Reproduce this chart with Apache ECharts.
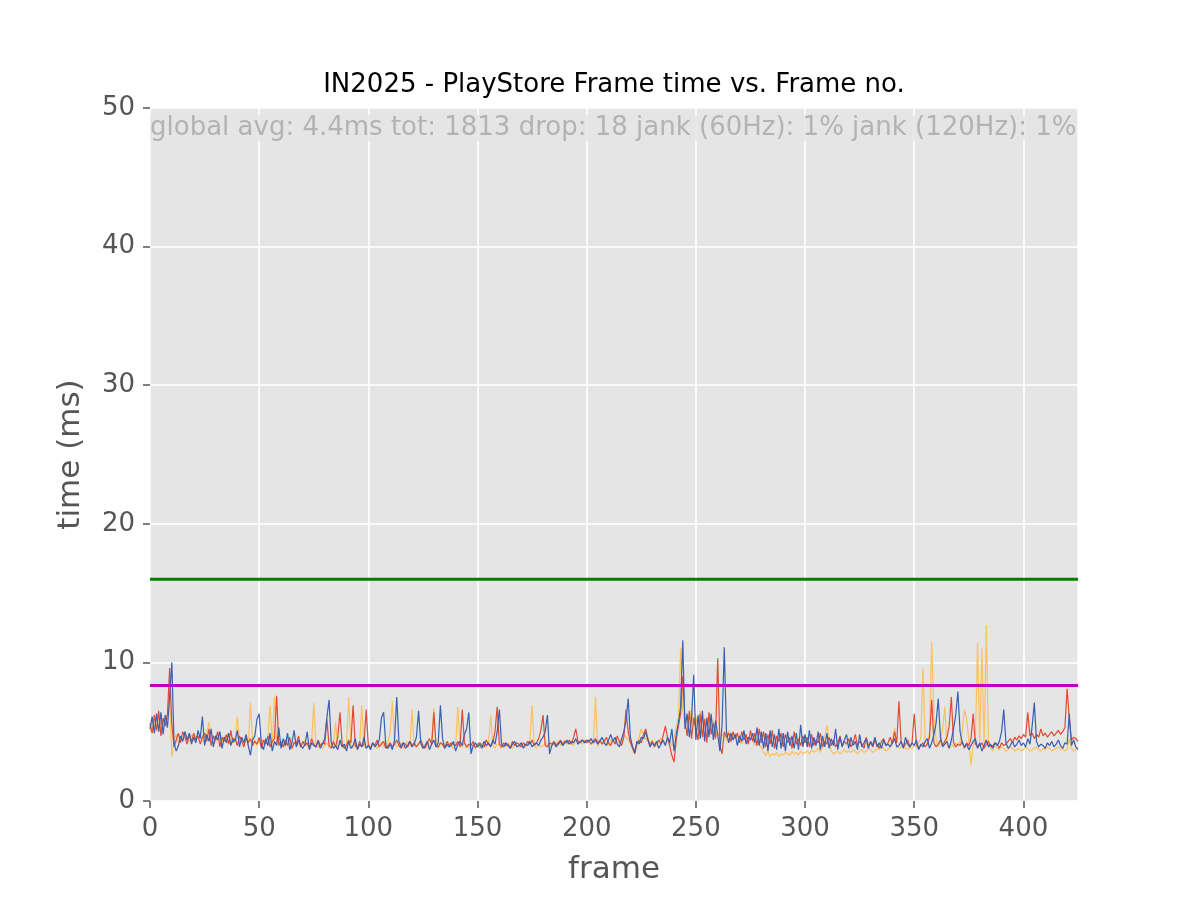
<!DOCTYPE html>
<html>
<head>
<meta charset="utf-8">
<script src="https://cdn.jsdelivr.net/npm/echarts@6/dist/echarts.min.js"></script>
<style>html,body{margin:0;padding:0;background:#fff}#c{width:1200px;height:900px}</style>
</head>
<body>
<div id="c"></div>
<script>
const titleText = 'IN2025 - PlayStore Frame time vs. Frame no.';
const statsText = 'global avg: 4.4ms tot: 1813 drop: 18 jank (60Hz): 1% jank (120Hz): 1%';
const xTicks = [0, 50, 100, 150, 200, 250, 300, 350, 400];
const yTicks = [0, 10, 20, 30, 40, 50];
const threshold60 = 16;
const threshold120 = 8.33;

const blue = [
5.2,6.1,4.9,6.3,5.0,6.4,4.8,6.2,5.3,7.5, 10.0,4.2,3.6,4.0,4.7,4.3,5.0,4.4,4.9,4.1,
4.6,4.2,5.1,4.5,6.1,4.0,4.8,4.3,5.2,3.9, 4.7,4.4,5.0,3.8,4.6,4.2,4.9,4.0,4.5,4.3,
5.1,3.9,4.6,4.2,4.8,4.0,3.3,4.4,4.7,5.9, 6.3,4.1,3.7,4.5,4.0,4.9,3.6,4.3,4.0,5.3,
3.8,4.5,4.0,4.9,3.7,4.2,5.1,3.9,4.4,4.0, 3.8,4.1,5.0,3.7,4.2,4.0,3.9,4.3,3.8,4.1,
4.5,6.0,7.3,4.2,3.8,4.0,3.7,4.4,3.9,4.1, 3.6,4.3,3.8,4.0,4.5,3.7,4.1,3.9,4.6,3.8,
4.0,3.7,4.2,3.9,4.1,4.4,6.0,6.4,4.0,3.8, 4.1,3.7,4.4,7.5,4.3,3.9,4.2,3.8,4.0,4.3,
3.9,4.1,4.6,6.5,4.2,3.8,4.0,4.3,3.7,4.1, 4.4,3.9,4.2,6.9,4.5,3.8,4.1,3.9,4.0,4.3,
3.6,4.1,4.3,4.0,4.8,5.2,6.4,3.4,4.0,4.2, 3.9,4.1,3.8,4.3,4.0,4.2,3.9,4.4,4.1,5.0,
6.6,4.1,3.9,4.2,4.0,3.8,4.1,4.3,3.9,4.0, 4.2,3.8,4.1,4.0,4.3,3.9,4.1,4.2,4.0,4.4,
4.6,5.0,6.2,3.4,4.0,4.2,3.9,4.1,4.3,4.0, 4.2,4.4,4.1,4.3,4.2,4.5,4.1,4.3,4.4,4.2,
4.4,4.3,4.5,4.2,4.4,4.1,4.3,4.6,4.2,4.0, 4.4,4.8,4.3,4.6,4.1,3.9,4.5,5.0,5.8,7.4,
4.6,3.9,3.5,4.3,4.1,4.6,4.5,5.0,4.4,3.9, 4.2,4.0,4.3,3.8,4.1,4.4,4.0,4.6,4.2,5.2,
3.6,4.8,5.6,6.8,11.6,5.2,6.3,4.6,5.9,9.1, 4.4,6.2,4.5,6.5,4.3,6.0,4.6,6.3,4.4,5.8,
4.8,3.6,5.5,11.1,5.0,4.2,4.9,4.4,4.8,4.0, 4.7,4.3,5.1,4.1,4.6,4.4,4.9,4.2,5.3,4.0,
5.0,3.8,4.9,3.6,5.1,3.9,4.8,3.7,5.2,3.8, 4.9,3.6,5.0,4.0,4.7,3.8,4.9,3.7,5.5,3.9,
4.8,3.9,5.1,3.8,4.6,4.0,5.0,3.7,4.7,3.9, 4.9,3.8,4.5,4.0,5.2,3.7,4.6,3.9,4.4,4.8,
3.8,4.6,4.0,4.3,3.7,4.8,3.9,4.2,4.5,3.8, 4.3,4.0,4.6,3.9,4.2,3.8,4.4,4.0,4.1,3.9,
4.2,4.5,3.9,4.0,4.3,3.8,4.6,4.1,3.9,4.2, 4.0,4.4,3.7,4.1,3.9,4.3,4.5,3.8,4.2,4.8,
5.6,7.4,4.6,3.9,4.1,4.3,3.8,4.4,5.2,6.2, 7.9,5.0,4.2,3.9,4.1,3.7,4.0,4.3,4.5,3.8,
4.2,3.6,4.0,4.4,3.9,4.1,3.8,4.2,4.0,4.3, 5.0,6.6,4.2,3.8,4.0,4.3,3.9,4.1,4.4,4.0,
4.2,3.9,4.5,4.1,5.4,7.1,4.3,3.9,4.1,4.0, 3.8,4.2,4.0,4.3,3.9,4.1,4.4,4.0,3.8,4.2,
4.1,6.3,4.0,4.4,3.9,3.7
];

const red = [
5.6,4.9,6.2,5.1,6.5,4.7,6.0,5.4,6.3,9.6, 5.5,3.9,4.4,4.9,4.2,5.0,4.6,4.1,4.8,4.3,
4.9,4.4,4.7,4.1,4.6,4.9,4.3,5.2,4.0,4.7, 4.4,5.0,3.9,4.6,4.3,4.8,4.1,5.1,4.2,4.5,
4.0,4.7,4.3,3.9,4.6,4.2,4.5,4.0,4.3,4.1, 4.6,3.8,4.4,4.1,4.7,3.9,4.3,4.5,7.6,4.0,
4.3,3.9,4.4,4.0,4.6,3.8,4.2,4.1,4.7,3.9, 4.3,4.0,4.2,3.8,4.5,4.1,3.9,4.4,4.0,4.2,
4.1,5.9,4.0,3.8,4.3,3.9,4.6,6.4,4.1,3.8, 4.0,4.4,4.2,6.9,4.0,3.8,4.3,3.9,4.1,6.6,
4.0,3.8,4.2,4.0,4.4,3.9,4.1,4.3,3.8,4.0, 4.2,3.9,4.1,4.4,4.0,3.8,4.2,4.1,3.9,4.3,
4.0,4.2,3.9,4.1,4.4,4.0,3.8,4.2,4.5,4.1, 6.4,4.0,3.9,4.2,4.1,3.8,4.3,4.0,4.2,4.1,
4.0,4.3,3.9,6.6,4.2,3.9,4.1,4.0,4.3,3.8, 4.1,4.2,4.0,3.9,4.4,4.1,4.0,4.2,5.0,6.8,
4.1,3.9,4.2,4.0,4.1,3.8,4.3,4.0,4.2,4.1, 3.9,4.2,4.0,4.3,4.1,4.4,4.0,4.2,4.5,5.1,
6.2,4.0,3.9,4.2,4.1,4.3,4.0,4.2,4.4,4.1, 4.3,4.2,4.4,4.1,4.6,5.2,4.3,4.2,4.4,4.3,
4.2,4.4,4.1,4.3,4.5,4.2,4.4,4.1,4.3,4.6, 4.2,4.0,4.4,4.1,4.7,4.3,4.0,4.6,6.6,5.0,
4.2,3.8,3.4,4.1,4.4,4.2,4.8,5.2,4.5,4.0, 4.3,3.9,4.2,4.4,4.1,4.7,5.4,4.6,4.0,3.3,
2.8,4.4,5.4,6.3,9.0,5.8,4.7,6.5,4.5,6.0, 5.2,4.4,6.3,4.6,5.9,4.2,6.4,4.8,5.6,4.5,
10.3,4.0,3.4,5.0,4.6,4.9,4.3,5.0,4.5,4.9, 4.2,5.0,4.4,4.8,4.1,5.1,4.3,4.9,4.0,5.2,
4.2,5.0,3.9,4.8,4.1,5.1,3.8,4.7,4.3,4.9, 3.9,4.8,4.2,4.6,3.8,5.0,4.1,4.5,4.0,4.7,
4.2,4.6,3.9,4.8,4.0,4.4,4.2,4.9,3.9,4.3, 4.1,4.6,4.0,4.4,3.9,4.2,4.7,4.0,4.3,4.1,
4.5,3.9,4.2,4.8,4.0,4.3,4.1,3.8,4.6,4.0, 4.2,3.9,4.4,4.1,3.8,4.3,4.5,4.0,4.2,4.6,
4.1,5.0,4.2,7.2,4.3,3.9,4.1,4.4,3.9,4.2, 6.3,4.1,3.8,4.0,4.2,3.9,4.1,4.6,7.3,4.2,
3.9,4.1,4.4,4.0,4.3,4.6,5.4,7.5,4.2,3.9, 4.1,4.0,4.3,3.8,4.2,4.0,4.5,6.3,4.1,3.9,
4.0,4.2,3.8,4.1,4.3,3.9,4.0,4.2,4.1,3.8, 4.2,4.0,4.1,4.3,4.5,4.2,4.6,4.4,4.7,4.5,
4.8,4.6,6.4,4.7,4.9,4.5,4.8,4.6,5.2,4.7, 4.9,4.6,4.8,5.0,4.7,4.9,5.1,4.8,5.0,5.3,
8.1,6.0,4.4,4.6,4.5,4.3
];

const orange = [
5.0,5.8,5.3,6.0,5.2,5.7,5.5,6.1,5.9,8.0, 3.2,4.4,4.8,4.2,4.6,4.4,5.0,4.5,4.3,4.8,
4.4,4.7,4.5,4.9,4.3,4.6,5.0,5.7,4.4,4.6, 4.2,4.8,4.5,4.3,4.7,4.4,4.9,4.2,4.6,4.4,
6.1,4.3,4.5,4.1,4.6,4.0,7.1,4.2,4.4,4.0, 4.3,4.5,4.1,4.2,4.6,6.9,4.0,7.5,4.3,4.1,
4.0,4.2,3.9,4.4,4.1,3.8,4.3,4.0,4.2,3.9, 4.1,4.4,4.0,3.8,4.2,7.1,4.0,3.9,4.1,3.8,
4.0,4.2,3.9,4.1,4.0,5.7,3.8,4.2,4.0,3.9, 4.1,7.5,4.0,3.8,4.2,3.9,4.1,6.9,4.0,3.8,
4.1,3.9,4.2,4.0,3.8,4.1,4.3,3.9,4.0,4.2, 5.0,7.2,4.1,3.9,4.0,4.2,3.8,4.1,4.3,4.0,
6.6,4.0,3.9,4.2,4.1,3.8,4.0,4.3,3.9,4.1, 6.7,4.0,3.8,4.2,4.0,4.1,3.9,4.2,4.0,3.8,
4.1,6.8,4.0,3.9,4.2,3.8,4.0,3.6,4.1,3.9, 4.0,3.8,4.2,4.0,3.9,4.1,6.2,4.0,3.8,4.1,
4.0,3.8,4.1,3.9,4.2,4.0,3.8,4.1,4.0,3.9, 4.2,4.0,3.9,4.1,4.3,6.9,4.0,3.8,4.1,3.9,
4.0,4.2,4.1,3.9,4.0,4.2,4.1,4.3,4.0,4.2, 4.4,4.1,4.3,4.2,4.0,4.4,4.2,4.3,4.1,4.4,
4.3,4.2,4.5,4.1,7.5,3.9,4.3,4.1,4.4,4.2, 4.0,4.3,4.5,4.2,4.4,4.1,4.3,4.8,4.6,4.4,
4.3,4.0,3.6,4.2,4.6,5.2,4.8,4.4,4.6,4.1, 4.4,4.2,4.0,4.3,4.5,4.2,4.1,4.4,4.3,4.0,
4.6,5.3,6.0,11.0,6.5,5.6,6.2,5.0,6.6,5.4, 6.1,5.2,6.5,4.9,6.0,5.5,6.3,5.1,5.8,4.6,
5.0,4.3,4.8,4.6,4.4,5.1,4.2,4.7,4.9,4.3, 4.6,4.1,4.5,4.8,4.2,4.6,4.4,4.0,4.3,4.1,
3.8,3.5,3.3,3.6,3.2,3.4,3.3,3.5,3.2,3.4, 3.3,3.5,3.4,3.3,3.6,3.4,3.5,3.3,3.6,3.4,
3.5,3.6,3.4,3.7,3.5,3.6,3.8,3.5,4.0,4.6, 5.5,4.2,3.6,3.4,3.5,3.6,3.4,3.5,3.7,3.5,
3.6,3.5,3.7,3.6,3.4,3.6,3.7,3.5,3.6,3.8, 3.7,3.5,3.6,3.8,3.7,3.9,3.8,3.6,3.7,4.0,
4.3,5.3,4.0,3.8,3.9,4.1,3.8,3.7,3.9,3.8, 4.0,3.9,4.2,4.5,9.6,4.4,4.0,5.0,11.5,6.2,
4.5,3.9,4.3,5.2,6.8,4.0,3.8,4.1,3.9,4.2, 4.0,4.3,5.0,6.6,5.9,4.4,2.6,4.0,4.3,11.4,
4.2,11.0,3.8,12.7,4.1,3.9,3.6,4.0,3.8,3.7, 3.9,3.8,3.6,3.7,3.9,3.8,3.6,3.7,3.8,3.6,
3.7,3.9,3.8,3.6,3.7,3.8,3.9,3.7,3.6,3.8, 3.7,3.9,3.8,3.6,3.7,3.8,3.9,3.7,3.8,3.6,
3.7,4.5,3.8,3.6,3.7,3.9
];

const FONT = 'DejaVu Sans';
function pairs(arr) { return arr.map((v, i) => [i, v]); }

const chart = echarts.init(document.getElementById('c'), null, { renderer: 'canvas' });
const lineSeries = (name, data, color, z) => ({
  name, type: 'line', data: pairs(data), showSymbol: false, symbol: 'none',
  lineStyle: { color, width: 1.2 }, z, silent: true, animation: false
});
const hLine = (name, y, color) => ({
  name, type: 'line', data: [[0, y], [blue.length - 1, y]], showSymbol: false, symbol: 'none',
  lineStyle: { color, width: 3 }, z: 10, silent: true, animation: false
});

chart.setOption({
  animation: false,
  backgroundColor: '#ffffff',
  textStyle: { fontFamily: FONT },
  grid: { left: 150, right: 122, top: 108, bottom: 99, show: true, backgroundColor: '#e5e5e5', borderWidth: 0 },
  xAxis: {
    type: 'value', min: 0, max: blue.length - 1, interval: 50,
    name: 'frame', nameLocation: 'middle', nameGap: 53,
    nameTextStyle: { fontSize: 31, color: '#555555', fontFamily: FONT },
    axisLine: { show: false },
    axisTick: { show: true, length: 7, lineStyle: { color: '#555555', width: 1.5 } },
    axisLabel: { fontSize: 26, color: '#555555', margin: 15, fontFamily: FONT, showMaxLabel: false,
      formatter: v => xTicks.includes(v) ? String(v) : '' },
    splitLine: { show: true, lineStyle: { color: '#ffffff', width: 1.6 } }
  },
  yAxis: {
    type: 'value', min: 0, max: 50, interval: 10,
    name: 'time (ms)', nameLocation: 'middle', nameGap: 64,
    nameTextStyle: { fontSize: 31, color: '#555555', fontFamily: FONT },
    axisLine: { show: false },
    axisTick: { show: true, length: 7, lineStyle: { color: '#555555', width: 1.5 } },
    axisLabel: { fontSize: 26, color: '#555555', margin: 15, fontFamily: FONT,
      formatter: v => yTicks.includes(v) ? String(v) : '' },
    splitLine: { show: true, lineStyle: { color: '#ffffff', width: 1.6 } }
  },
  series: [
    lineSeries('frametime A', orange, '#fbc15e', 3),
    lineSeries('frametime B', red, '#e24a33', 4),
    lineSeries('frametime C', blue, '#3a5fb0', 5),
    hLine('60Hz', threshold60, '#008000'),
    hLine('120Hz', threshold120, '#bf00bf')
  ],
  graphic: [
    { type: 'text', z: 100, style: { text: titleText, x: 614, y: 85, textAlign: 'center', textVerticalAlign: 'middle',
      fill: '#000000', font: '26px "DejaVu Sans"' } },
    { type: 'text', z: 100, style: { text: statsText, x: 150, y: 128, textAlign: 'left', textVerticalAlign: 'middle',
      fill: '#b3b3b3', font: '26px "DejaVu Sans"', backgroundColor: 'rgba(229,229,229,0.85)' } }
  ]
});
</script>
</body>
</html>
